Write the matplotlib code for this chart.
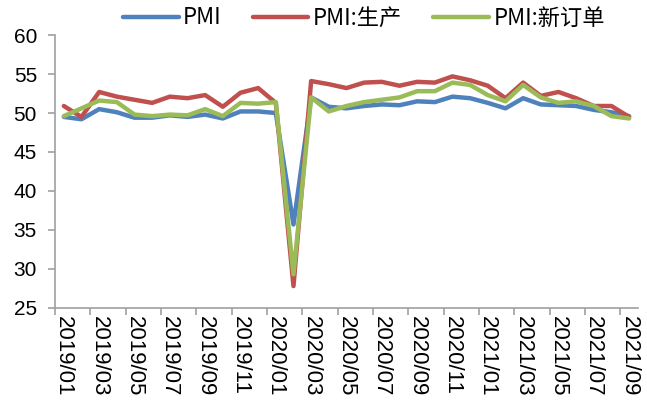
import matplotlib
matplotlib.use("Agg")
import matplotlib.pyplot as plt
import numpy as np

# === data (monthly, 2019/01 - 2021/09) ===
months = []
for y in (2019, 2020, 2021):
    for m in range(1, 13):
        if y == 2021 and m > 9:
            break
        months.append(f"{y}/{m:02d}")

pmi = [49.5, 49.2, 50.5, 50.1, 49.4, 49.4, 49.7, 49.5, 49.8, 49.3, 50.2, 50.2,
       50.0, 35.7, 52.0, 50.8, 50.6, 50.9, 51.1, 51.0, 51.5, 51.4, 52.1, 51.9,
       51.3, 50.6, 51.9, 51.1, 51.0, 50.9, 50.4, 50.1, 49.6]
production = [50.9, 49.5, 52.7, 52.1, 51.7, 51.3, 52.1, 51.9, 52.3, 50.8, 52.6, 53.2,
              51.3, 27.8, 54.1, 53.7, 53.2, 53.9, 54.0, 53.5, 54.0, 53.9, 54.7, 54.2,
              53.5, 51.9, 53.9, 52.2, 52.7, 51.9, 50.9, 50.9, 49.5]
new_orders = [49.6, 50.6, 51.6, 51.4, 49.8, 49.6, 49.8, 49.7, 50.5, 49.6, 51.3, 51.2,
              51.4, 29.3, 52.0, 50.2, 50.9, 51.4, 51.7, 52.0, 52.8, 52.8, 53.9, 53.6,
              52.3, 51.5, 53.6, 52.0, 51.3, 51.5, 50.9, 49.6, 49.3]

series = [("PMI", pmi, "#4f81bd"),
          ("PMI:生产", production, "#c0504d"),
          ("PMI:新订单", new_orders, "#9bbb59")]

# === figure ===
plt.rcParams['font.family'] = ['Liberation Sans', 'Noto Sans CJK SC', 'DejaVu Sans']
fig = plt.figure(figsize=(6.47, 4.03), dpi=100)
ax = fig.add_axes([0.085, 0.236, 0.901, 0.677])

x = np.arange(len(months))
for name, vals, col in series:
    ax.plot(x, vals, color=col, lw=3.2, label=name, solid_capstyle='round',
            solid_joinstyle='round')

ax.set_ylim(25, 60)
ax.set_yticks(np.arange(25, 61, 5))
ax.set_xlim(-0.5, len(months) - 0.5)

# ticks at category boundaries, labels at centers (every 2 months)
ax.set_xticks(np.arange(-0.5, len(months), 2))
ax.set_xticklabels([])
ax.set_xticks(x[::2], minor=True)
ax.set_xticklabels(months[::2], minor=True, rotation=270, fontsize=16)
ax.tick_params(axis='x', which='minor', length=0, pad=6)
ax.tick_params(axis='x', which='major', length=5, color='#a0a0a0', width=1.2)
ax.tick_params(axis='y', length=5, color='#a0a0a0', width=1.2, labelsize=15, pad=8)

for s in ('top', 'right'):
    ax.spines[s].set_visible(False)
for s in ('left', 'bottom'):
    ax.spines[s].set_color('#a0a0a0')
    ax.spines[s].set_linewidth(1.2)

leg = fig.legend(*ax.get_legend_handles_labels(), loc='center',
                 bbox_to_anchor=(364 / 647, 1 - 18 / 403), ncol=3, frameon=False,
                 handlelength=2.5, columnspacing=1.4, handletextpad=0.2,
                 borderpad=0, borderaxespad=0,
                 prop={'family': ['Noto Sans CJK SC', 'DejaVu Sans'], 'size': 16})

fig.savefig("out.png", dpi=100)
